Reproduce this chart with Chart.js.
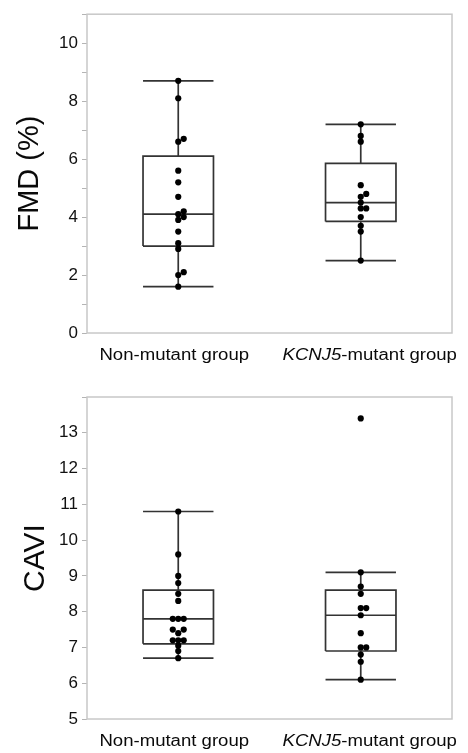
<!DOCTYPE html>
<html>
<head>
<meta charset="utf-8">
<script src="https://cdn.jsdelivr.net/npm/chart.js@4.4.1/dist/chart.umd.min.js"></script>
<style>
  html, body { margin: 0; padding: 0; background: #fff; }
  canvas { display: block; }
</style>
</head>
<body>
<canvas id="fmdChart" width="468" height="376"></canvas>
<canvas id="caviChart" width="468" height="377"></canvas>
<script>
// groups: [italic part, regular part]
const groupLabels = [['', 'Non-mutant group'], ['KCNJ5', '-mutant group']];
const groupPos = [1, 2];

// FMD (%) individual values
const fmdNonMutant = [8.7, 8.1, 6.7, 6.6, 5.6, 5.2, 4.7, 4.2, 4.1, 4.0, 3.9, 3.5, 3.1, 2.9, 2.1, 2.0, 1.6];
const fmdMutant = [7.2, 6.8, 6.6, 5.1, 4.8, 4.7, 4.5, 4.3, 4.3, 4.0, 3.7, 3.5, 2.5];
// box stats: [min, q1, median, q3, max]
const fmdBoxNonMutant = [1.6, 3.0, 4.1, 6.1, 8.7];
const fmdBoxMutant = [2.5, 3.85, 4.5, 5.85, 7.2];

// CAVI individual values
const caviNonMutant = [10.8, 9.6, 9.0, 8.8, 8.5, 8.3, 7.8, 7.8, 7.8, 7.5, 7.5, 7.4, 7.2, 7.2, 7.2, 7.05, 6.9, 6.7];
const caviMutant = [13.4, 9.1, 8.7, 8.5, 8.1, 8.1, 7.9, 7.4, 7.0, 7.0, 6.8, 6.6, 6.1];
const caviBoxNonMutant = [6.7, 7.1, 7.8, 8.6, 10.8];
const caviBoxMutant = [6.1, 6.9, 7.9, 8.6, 9.1];

const FONT = "'Liberation Sans', Arial, sans-serif";
Chart.defaults.font.family = FONT;
Chart.defaults.color = '#1a1a1a';

const BOX_HALF = 0.193;
const SWARM_STEP = 0.03;
const LINE_COLOR = '#333';

// simple beeswarm: points that would overlap get pushed sideways
function swarm(center, values, gap) {
  const placed = [];
  const slots = [0, 1, -1, 2, -2];
  [...values].sort((a, b) => a - b).forEach(v => {
    const slot = slots.find(s => !placed.some(p => p.slot === s && Math.abs(p.y - v) < gap));
    placed.push({ slot: slot, y: v });
  });
  return placed.map(p => ({ x: center + p.slot * SWARM_STEP, y: p.y }));
}

function lineSet(pts) {
  return {
    data: pts,
    showLine: true,
    borderColor: LINE_COLOR,
    borderWidth: 1.7,
    pointRadius: 0,
    borderJoinStyle: 'miter',
    order: 2
  };
}

function boxDatasets(center, stats) {
  const [lo, q1, med, q3, hi] = stats;
  const l = center - BOX_HALF, r = center + BOX_HALF;
  return [
    lineSet([{x: l, y: q1}, {x: r, y: q1}, {x: r, y: q3}, {x: l, y: q3}, {x: l, y: q1}]),
    lineSet([{x: l, y: med}, {x: r, y: med}]),
    lineSet([{x: center, y: q3}, {x: center, y: hi}]),
    lineSet([{x: center, y: q1}, {x: center, y: lo}]),
    lineSet([{x: l, y: hi}, {x: r, y: hi}]),
    lineSet([{x: l, y: lo}, {x: r, y: lo}])
  ];
}

function pointSet(pts) {
  return {
    data: pts,
    showLine: false,
    pointRadius: 3.1,
    pointBackgroundColor: '#000',
    pointBorderWidth: 0,
    order: 1
  };
}

function drawLabel(ctx, parts, cx, y) {
  const italic = parts[0], regular = parts[1];
  ctx.font = 'italic 16px ' + FONT;
  const wi = italic ? ctx.measureText(italic).width : 0;
  ctx.font = '16px ' + FONT;
  const wr = ctx.measureText(regular).width;
  ctx.save();
  ctx.translate(cx, y);
  ctx.scale(1.16, 1);
  ctx.fillStyle = '#0a0a0a';
  ctx.textAlign = 'left';
  ctx.textBaseline = 'alphabetic';
  const start = -(wi + wr) / 2;
  if (italic) {
    ctx.font = 'italic 16px ' + FONT;
    ctx.fillText(italic, start, 0);
  }
  ctx.font = '16px ' + FONT;
  ctx.fillText(regular, start + wi, 0);
  ctx.restore();
}

// frame round the plot + group labels underneath
const framePlugin = {
  id: 'frame',
  afterDraw(chart) {
    const { ctx, chartArea: a, scales: { x } } = chart;
    ctx.save();
    ctx.strokeStyle = '#c8c8c8';
    ctx.lineWidth = 1.5;
    ctx.strokeRect(a.left, a.top, a.right - a.left, a.bottom - a.top);
    const shift = [-4, 9];
    groupLabels.forEach((parts, i) => {
      drawLabel(ctx, parts, x.getPixelForValue(groupPos[i]) + shift[i], a.bottom + 27);
    });
    ctx.restore();
  }
};

function makeChart(id, o) {
  const ctx = document.getElementById(id).getContext('2d');
  return new Chart(ctx, {
    type: 'scatter',
    data: {
      datasets: [
        pointSet(swarm(groupPos[0], o.values[0], o.gap)),
        pointSet(swarm(groupPos[1], o.values[1], o.gap)),
        ...boxDatasets(groupPos[0], o.boxes[0]),
        ...boxDatasets(groupPos[1], o.boxes[1])
      ]
    },
    options: {
      responsive: false,
      animation: false,
      layout: { padding: o.padding },
      plugins: { legend: { display: false }, tooltip: { enabled: false } },
      scales: {
        x: { type: 'linear', min: 0.5, max: 2.5, display: false },
        y: {
          min: o.min,
          max: o.max,
          afterFit: function(scale) { scale.width = 87; },
          border: { display: false },
          grid: { display: true, drawOnChartArea: false, drawTicks: true, tickLength: 5, color: '#b4b4b4' },
          ticks: {
            stepSize: 1,
            padding: 4,
            font: { size: 17 },
            color: '#111',
            callback: function(v) {
              if (v === o.max) return '';
              return (v % o.labelEvery === 0) ? String(v) : '';
            }
          },
          title: {
            display: true,
            text: o.title,
            font: { size: o.titleSize },
            color: '#0a0a0a',
            padding: { top: o.titlePad, bottom: 0 }
          }
        }
      }
    },
    plugins: [framePlugin]
  });
}

makeChart('fmdChart', {
  values: [fmdNonMutant, fmdMutant],
  boxes: [fmdBoxNonMutant, fmdBoxMutant],
  gap: 0.12,
  min: 0, max: 11, labelEvery: 2,
  title: 'FMD (%)', titleSize: 29, titlePad: 13,
  padding: { top: 13, right: 16, bottom: 43, left: 0 }
});

makeChart('caviChart', {
  values: [caviNonMutant, caviMutant],
  boxes: [caviBoxNonMutant, caviBoxMutant],
  gap: 0.12,
  min: 5, max: 14, labelEvery: 1,
  title: 'CAVI', titleSize: 30, titlePad: 18,
  padding: { top: 21, right: 16, bottom: 34, left: 0 }
});
</script>
</body>
</html>
